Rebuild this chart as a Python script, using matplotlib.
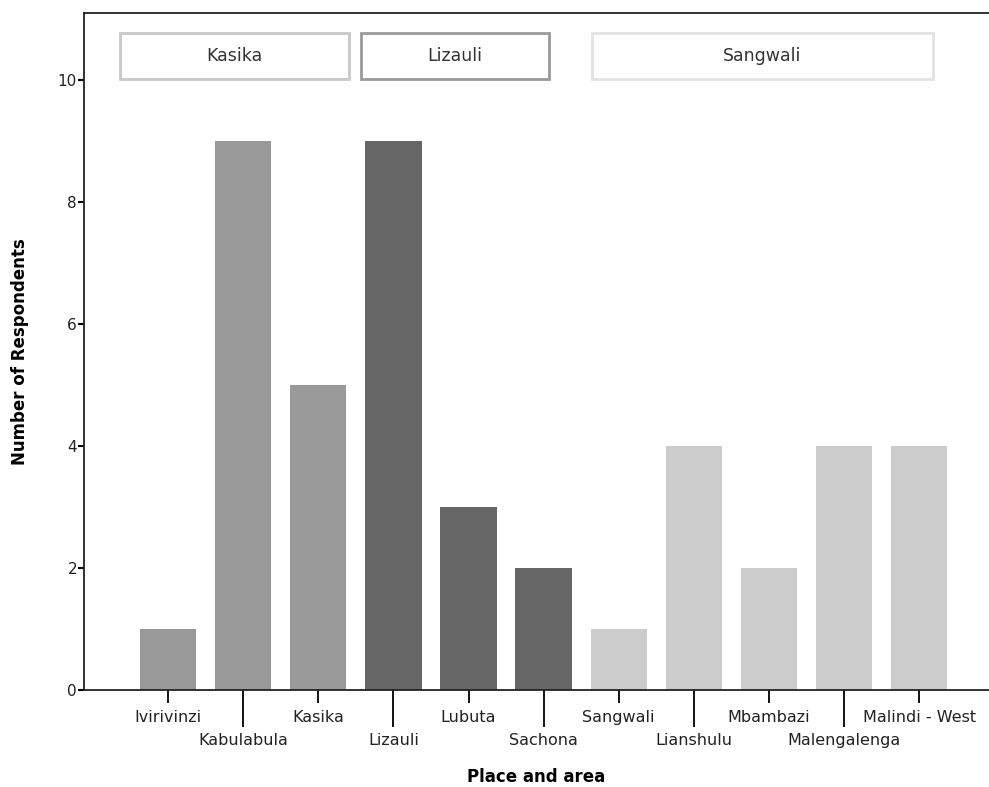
import matplotlib.pyplot as plt
from matplotlib.patches import Rectangle

# data
places = ['Ivirivinzi', 'Kabulabula', 'Kasika', 'Lizauli', 'Lubuta', 'Sachona',
          'Sangwali', 'Lianshulu', 'Mbambazi', 'Malengalenga', 'Malindi - West']
counts = [1, 9, 5, 9, 3, 2, 1, 4, 2, 4, 4]
areas = ['Kasika', 'Kasika', 'Kasika', 'Lizauli', 'Lizauli', 'Lizauli',
         'Sangwali', 'Sangwali', 'Sangwali', 'Sangwali', 'Sangwali']

area_names = ['Kasika', 'Lizauli', 'Sangwali']
area_colors = {'Kasika': '#999999', 'Lizauli': '#666666', 'Sangwali': '#cccccc'}
box_edges = {'Kasika': '#c8c8c8', 'Lizauli': '#9a9a9a', 'Sangwali': '#e2e2e2'}
# legend box spans along x (data units)
box_spans = {'Kasika': (-0.64, 2.41), 'Lizauli': (2.57, 5.07), 'Sangwali': (5.64, 10.19)}

plt.rcParams['font.family'] = ['DejaVu Sans']

fig = plt.figure(figsize=(9.89, 7.87), dpi=100)
ax = fig.add_axes([84 / 989, 97 / 787, 905 / 989, 677 / 787])

x = list(range(len(places)))
ax.bar(x, counts, width=0.75, color=[area_colors[a] for a in areas])

ax.set_xlim(-1.12, 10.93)
ax.set_ylim(0, 11.1)
ax.set_yticks([0, 2, 4, 6, 8, 10])
ax.tick_params(axis='y', length=4, width=1.5, labelsize=11, pad=1, labelcolor='#222222')

# staggered category labels
ax.set_xticks(x[0::2], places[0::2])
ax.set_xticks(x[1::2], places[1::2], minor=True)
ax.tick_params(axis='x', which='major', length=9.4, width=1.3, labelsize=11.5, pad=5,
               labelcolor='#222222')
ax.tick_params(axis='x', which='minor', length=26.6, width=1.3, labelsize=11.5, pad=4.5,
               labelcolor='#222222')

for s in ['left', 'bottom', 'top']:
    ax.spines[s].set_linewidth(1.3)
    ax.spines[s].set_color('#222222')
ax.spines['right'].set_visible(False)

ax.set_xlabel('Place and area', fontsize=12, fontweight='bold', labelpad=14)
ax.set_ylabel('Number of Respondents', fontsize=12, fontweight='bold', labelpad=21)

# area boxes at the top
for name in area_names:
    x0, x1 = box_spans[name]
    ax.add_patch(Rectangle((x0, 10.02), x1 - x0, 0.75, facecolor='white',
                           edgecolor=box_edges[name], linewidth=2, clip_on=False))
    ax.text((x0 + x1) / 2, 10.395, name, ha='center', va='center', fontsize=12.5,
            color='#333333')

fig.savefig('out.png', dpi=100)
